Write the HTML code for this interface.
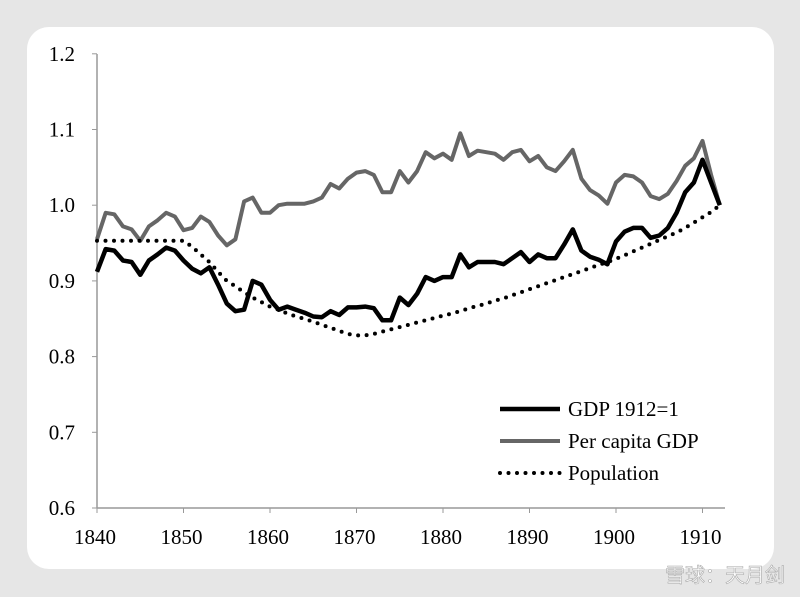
<!DOCTYPE html>
<html><head><meta charset="utf-8"><style>
body{margin:0;width:800px;height:597px;background:#e6e6e6;overflow:hidden;font-family:"Liberation Serif",serif}
#card{position:absolute;left:27px;top:27px;width:747px;height:542px;background:#fff;border-radius:22px}
svg{position:absolute;left:0;top:0}
</style></head><body>
<div id="card"></div>
<svg id="chart" width="800" height="597"></svg>
<script>
const years=[];for(let y=1840;y<=1912;y++)years.push(y);
const gdp=[0.912,0.942,0.94,0.927,0.925,0.908,0.927,0.935,0.944,0.94,0.927,0.916,0.91,0.918,0.895,0.87,0.86,0.862,0.9,0.895,0.875,0.862,0.866,0.862,0.858,0.853,0.852,0.86,0.855,0.865,0.865,0.866,0.864,0.848,0.848,0.878,0.868,0.883,0.905,0.9,0.905,0.905,0.935,0.918,0.925,0.925,0.925,0.922,0.93,0.938,0.925,0.935,0.93,0.93,0.948,0.968,0.94,0.932,0.928,0.922,0.952,0.965,0.97,0.97,0.957,0.96,0.97,0.99,1.017,1.03,1.06,1.03,1.0];
const perCapita=[0.955,0.99,0.988,0.972,0.968,0.953,0.972,0.98,0.99,0.985,0.967,0.97,0.985,0.978,0.96,0.947,0.955,1.005,1.01,0.99,0.99,1.0,1.002,1.002,1.002,1.005,1.01,1.028,1.022,1.035,1.043,1.045,1.04,1.017,1.017,1.045,1.03,1.045,1.07,1.062,1.068,1.06,1.095,1.065,1.072,1.07,1.068,1.06,1.07,1.073,1.058,1.065,1.05,1.045,1.058,1.073,1.035,1.02,1.013,1.002,1.03,1.04,1.038,1.03,1.012,1.008,1.015,1.032,1.052,1.062,1.085,1.04,1.0];
const population=[0.953,0.953,0.953,0.953,0.953,0.953,0.953,0.953,0.953,0.953,0.953,0.945,0.935,0.925,0.912,0.9,0.893,0.885,0.878,0.872,0.866,0.862,0.857,0.853,0.85,0.846,0.842,0.838,0.834,0.83,0.828,0.828,0.83,0.833,0.836,0.839,0.842,0.845,0.848,0.851,0.854,0.857,0.86,0.864,0.867,0.87,0.874,0.877,0.881,0.885,0.889,0.893,0.897,0.901,0.905,0.909,0.913,0.917,0.921,0.925,0.929,0.934,0.939,0.944,0.949,0.954,0.959,0.964,0.97,0.977,0.984,0.991,1.0];
const yTicks=[0.6,0.7,0.8,0.9,1.0,1.1,1.2];
const xTicks=[1840,1850,1860,1870,1880,1890,1900,1910];
const svg=document.getElementById('chart');const NS='http://www.w3.org/2000/svg';
const X=v=>97+(v-1840)*8.65, Y=v=>508-(v-0.6)*757;
function mk(t,a,p){const e=document.createElementNS(NS,t);for(const k in a)e.setAttribute(k,a[k]);(p||svg).appendChild(e);return e;}
let e=mk('line',{x1:97,y1:54,x2:97,y2:508,stroke:'#999','stroke-width':1.5});

e=mk('line',{x1:97,y1:508,x2:725,y2:508,stroke:'#999','stroke-width':1.5});

yTicks.forEach(v=>{mk('line',{x1:92,y1:Y(v),x2:97,y2:Y(v),stroke:'#999'});
 const t=mk('text',{x:75,y:Y(v)+7,'font-size':21,'text-anchor':'end',fill:'#000'});t.textContent=v.toFixed(1);
 });
xTicks.forEach(v=>{mk('line',{x1:X(v),y1:508,x2:X(v),y2:513,stroke:'#999'});
 const t=mk('text',{x:X(v)-2,y:544,'font-size':21,'text-anchor':'middle',fill:'#000'});t.textContent=v;
 });
function line(vals,st,name){const d=vals.map((v,i)=>(i?'L':'M')+X(years[i]).toFixed(1)+','+Y(v).toFixed(1)).join('');
 const p=mk('path',Object.assign({d:d,fill:'none','stroke-linejoin':'round'},st));
 }
line(perCapita,{stroke:'#666','stroke-width':4},'per-capita-gdp-line');
line(population,{stroke:'#000','stroke-width':4,'stroke-dasharray':'0 8.5','stroke-linecap':'round'},'population-line');
line(gdp,{stroke:'#000','stroke-width':4.5},'gdp-line');
const leg=[['GDP 1912=1',{stroke:'#000','stroke-width':4.5}],['Per capita GDP',{stroke:'#666','stroke-width':4}],['Population',{stroke:'#000','stroke-width':4,'stroke-dasharray':'0 8.5','stroke-linecap':'round'}]];
leg.forEach((l,i)=>{const y=409+i*32;const g=mk('g',{});
 
 mk('line',Object.assign({x1:500,y1:y,x2:560,y2:y},l[1]),g);
 const t=mk('text',{x:568,y:y+7,'font-size':21,fill:'#000'},g);t.textContent=l[0];});
const w=mk('text',{x:785,y:582,'font-size':20,'text-anchor':'end',fill:'#fff',stroke:'#aaa','stroke-width':0.6,'font-family':'"Liberation Sans","Noto Sans CJK SC",sans-serif'});
w.textContent='雪球：天月剑';
</script>
</body></html>
